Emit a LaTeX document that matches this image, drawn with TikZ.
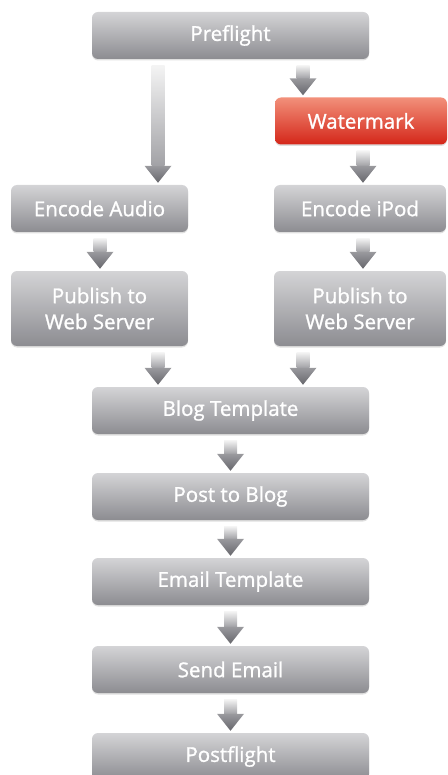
\documentclass[tikz,border=0pt]{standalone}
\usepackage{fontspec}
\setmainfont{Open Sans}[FakeBold=1.2]
\usetikzlibrary{shadows,calc}

\definecolor{boxtop}{HTML}{D4D4D6}
\definecolor{boxbot}{HTML}{8C8C91}
\definecolor{redtop}{HTML}{F2907A}
\definecolor{redbot}{HTML}{D42619}
\definecolor{shafttop}{HTML}{F4F4F4}
\definecolor{shaftbot}{HTML}{A2A2A6}
\definecolor{headtop}{HTML}{9A9A9E}
\definecolor{headbot}{HTML}{66666C}

\tikzset{
  stage/.style={rounded corners=6pt, top color=boxtop, bottom color=boxbot,
    text=white, font=\fontsize{20.5}{26}\selectfont, align=center, inner sep=0pt,
    drop shadow={shadow xshift=0pt, shadow yshift=-1.5pt, opacity=0.25}},
  alert/.style={top color=redtop, bottom color=redbot},
  widebox/.style={minimum width=277pt, minimum height=47pt},
  sidebox/.style={minimum width=177pt, minimum height=47pt},
  sidebox2/.style={minimum width=172pt, minimum height=47pt},
  tallbox/.style={minimum height=75pt},
}

% Block arrow: #1 column coordinate, #2 source node, #3 target node
\newcommand\flowarrow[3]{%
  \coordinate (fa-s) at ($(#2.south -| #1)+(0,-6)$);
  \coordinate (fa-t) at ($(#3.north -| #1)+(0,2)$);
  \shade[top color=shafttop, bottom color=shaftbot]
    ($(fa-s)+(-6.5,0)$) rectangle ($(fa-t)+(6.5,17)$);
  \shade[top color=headtop, bottom color=headbot]
    ($(fa-t)+(-13.5,17)$) -- ($(fa-t)+(13.5,17)$) -- (fa-t) -- cycle;
}

\begin{document}
\begin{tikzpicture}[x=1pt, y=1pt]
\useasboundingbox (0,0) rectangle (447,-775);

% arrow columns
\coordinate (colL) at (158,0);
\coordinate (colR) at (303,0);
\coordinate (colM) at (230.5,0);
\coordinate (colA) at (100,0);
\coordinate (colB) at (363,0);

\node[stage, widebox] (pre) at (230.5,-35.5) {Preflight};
\node[stage, alert, sidebox2] (wm) at (361,-121) {Watermark};
\node[stage, sidebox] (ea) at (99.5,-208.5) {Encode Audio};
\node[stage, sidebox2] (ei) at (360,-208.5) {Encode iPod};
\node[stage, sidebox, tallbox] (pa) at (99.5,-308.5) {Publish to\\Web Server};
\node[stage, sidebox2, tallbox] (pi) at (360,-308.5) {Publish to\\Web Server};
\node[stage, widebox] (blog) at (230.5,-410.5) {Blog Template};
\node[stage, widebox] (post) at (230.5,-496.5) {Post to Blog};
\node[stage, widebox] (email) at (230.5,-581.5) {Email Template};
\node[stage, widebox] (send) at (230.5,-669.5) {Send Email};
\node[stage, widebox] (postf) at (230.5,-756.5) {Postflight};

\flowarrow{colR}{pre}{wm}
\flowarrow{colL}{pre}{ea}
\flowarrow{colB}{wm}{ei}
\flowarrow{colA}{ea}{pa}
\flowarrow{colB}{ei}{pi}
\flowarrow{colL}{pa}{blog}
\flowarrow{colR}{pi}{blog}
\flowarrow{colM}{blog}{post}
\flowarrow{colM}{post}{email}
\flowarrow{colM}{email}{send}
\flowarrow{colM}{send}{postf}
\end{tikzpicture}
\end{document}
